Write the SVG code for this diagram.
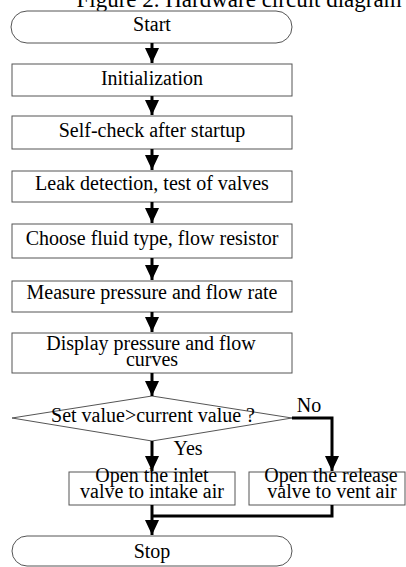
<svg xmlns="http://www.w3.org/2000/svg" width="406" height="567" viewBox="0 0 406 567">
<style>
.box{fill:#fff;stroke:#555;stroke-width:1}
.t{font-family:"Liberation Serif","Times New Roman",serif;font-size:20px;fill:#000;text-anchor:middle}
.c{fill:none;stroke:#000;stroke-width:3}
</style>
<defs>
<marker id="ah" viewBox="0 0 15 14" refX="15" refY="7" markerWidth="15" markerHeight="14" markerUnits="userSpaceOnUse" orient="auto">
<path d="M0,0 L15,7 L0,14 z" fill="#000"/>
</marker>
</defs>
<rect width="406" height="567" fill="#fff"/>
<text x="239" y="7" class="t" style="font-size:23px">Figure 2.   Hardware circuit diagram</text>
<g id="start"><rect class="box" x="11" y="11" width="281" height="32" rx="16"/><text class="t" x="152" y="31">Start</text></g>
<g id="init"><rect class="box" x="12" y="64" width="280" height="32"/><text class="t" x="152" y="85">Initialization</text></g>
<g id="selfcheck"><rect class="box" x="12" y="116" width="280" height="33"/><text class="t" x="152" y="137">Self-check after startup</text></g>
<g id="leak"><rect class="box" x="12" y="171" width="280" height="31"/><text class="t" x="152" y="190">Leak detection, test of  valves</text></g>
<g id="fluid"><rect class="box" x="12" y="224" width="280" height="34"/><text class="t" x="152" y="245">Choose fluid type, flow resistor</text></g>
<g id="measure"><rect class="box" x="12" y="281" width="280" height="31"/><text class="t" x="152" y="299">Measure pressure and flow rate</text></g>
<g id="display"><rect class="box" x="12" y="333" width="280" height="40"/><text class="t" x="151" y="350">Display pressure and flow</text><text class="t" x="152" y="366">curves</text></g>
<g id="decision"><polygon class="box" points="152,396 292,418 152,441 12,418"/><text class="t" x="153" y="422">Set value&gt;current value ?</text></g>
<g id="inlet"><rect class="box" x="69" y="472" width="166" height="33"/><text class="t" x="152" y="482">Open the inlet</text><text class="t" x="152" y="498">valve to intake air</text></g>
<g id="release"><rect class="box" x="249" y="472" width="156" height="33"/><text class="t" x="331" y="482">Open the release</text><text class="t" x="332" y="498">valve to vent air</text></g>
<g id="stop"><rect class="box" x="12" y="536" width="280" height="30" rx="15"/><text class="t" x="152" y="558">Stop</text></g>
<g id="connectors">
<line class="c" x1="152" y1="43" x2="152" y2="63" marker-end="url(#ah)"/>
<line class="c" x1="152" y1="96" x2="152" y2="115" marker-end="url(#ah)"/>
<line class="c" x1="152" y1="149" x2="152" y2="170" marker-end="url(#ah)"/>
<line class="c" x1="152" y1="202" x2="152" y2="223" marker-end="url(#ah)"/>
<line class="c" x1="152" y1="258" x2="152" y2="280" marker-end="url(#ah)"/>
<line class="c" x1="152" y1="312" x2="152" y2="332" marker-end="url(#ah)"/>
<line class="c" x1="152" y1="373" x2="152" y2="396" marker-end="url(#ah)"/>
<line class="c" x1="152" y1="441" x2="152" y2="471" marker-end="url(#ah)"/>
<polyline class="c" points="292,418 332,418 332,471" marker-end="url(#ah)"/>
<polyline class="c" points="332,505 332,516 152,516"/>
<line class="c" x1="152" y1="505" x2="152" y2="535" marker-end="url(#ah)"/>
<text class="t" x="309" y="412">No</text>
<text class="t" x="188" y="455">Yes</text>
</g>
</svg>
